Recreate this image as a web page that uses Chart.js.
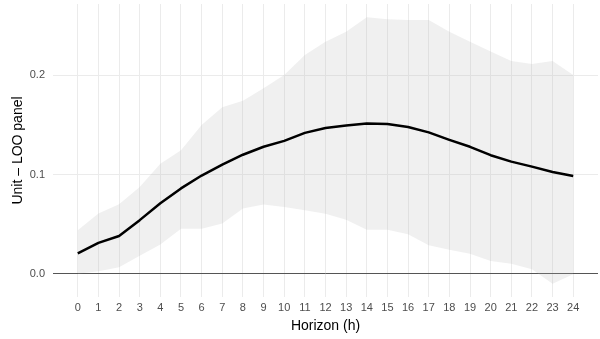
<!DOCTYPE html>
<html>
<head>
<meta charset="utf-8">
<script src="https://cdn.jsdelivr.net/npm/chart.js@4.4.1/dist/chart.umd.min.js"></script>
<style>
  html, body { margin: 0; padding: 0; background: #ffffff; }
  #wrap { width: 600px; height: 339px; }
</style>
</head>
<body>
<div id="wrap"><canvas id="c" width="600" height="339"></canvas></div>
<script>
// Forecast horizon (hours)
const hours = [0, 1, 2, 3, 4, 5, 6, 7, 8, 9, 10, 11, 12, 13, 14, 15, 16, 17, 18, 19, 20, 21, 22, 23, 24];

// Unit – LOO panel estimate by horizon
const meanEffect = [0.0205, 0.031, 0.038, 0.054, 0.071, 0.086, 0.099, 0.110, 0.120, 0.128, 0.134, 0.142, 0.147,
                    0.1495, 0.1515, 0.151, 0.148, 0.1425, 0.135, 0.128, 0.1195, 0.113, 0.108, 0.1025, 0.0985];

// Interval bounds
const upperBand = [0.0437, 0.0606, 0.070, 0.0875, 0.111, 0.1246, 0.150, 0.168, 0.1744, 0.187, 0.2003, 0.2205, 0.234,
                   0.244, 0.2586, 0.2566, 0.256, 0.256, 0.244, 0.234, 0.224, 0.2145, 0.2114, 0.2145, 0.2003];
const lowerBand = [0.0, 0.0025, 0.0065, 0.018, 0.0295, 0.0454, 0.0454, 0.0505, 0.0657, 0.0697, 0.0673, 0.064, 0.0605,
                   0.0545, 0.0444, 0.0444, 0.0397, 0.0286, 0.0242, 0.0202, 0.0128, 0.0101, 0.0044, -0.0101, -0.0007];

// Axis ticks
const xTicks = hours;
const yTicks = [0, 0.1, 0.2];
const yTickLabels = ['0.0', '0.1', '0.2'];

// Axis limits padded by 5% of the data range on each side
function expandRange(lo, hi) {
  const d = (hi - lo) * 0.05;
  return [lo - d, hi + d];
}
const xLim = expandRange(Math.min(...hours), Math.max(...hours));
const yLim = expandRange(Math.min(...lowerBand, ...meanEffect), Math.max(...upperBand, ...meanEffect));

const toPoints = (ys) => hours.map((h, i) => ({ x: h, y: ys[i] }));

const FONT = '"Liberation Sans", Arial, Helvetica, sans-serif';
Chart.defaults.font.family = FONT;

new Chart(document.getElementById('c'), {
  type: 'line',
  data: {
    datasets: [
      {
        label: 'upper',
        data: toPoints(upperBand),
        borderWidth: 0,
        borderColor: 'rgba(0,0,0,0)',
        backgroundColor: 'rgba(179,179,179,0.2)',
        fill: '+1',
        pointRadius: 0,
        tension: 0,
        order: 2
      },
      {
        label: 'lower',
        data: toPoints(lowerBand),
        borderWidth: 0,
        borderColor: 'rgba(0,0,0,0)',
        fill: false,
        pointRadius: 0,
        tension: 0,
        order: 2
      },
      {
        label: 'estimate',
        data: toPoints(meanEffect),
        borderColor: '#000000',
        borderWidth: 2.5,
        fill: false,
        pointRadius: 0,
        tension: 0,
        borderJoinStyle: 'round',
        borderCapStyle: 'butt',
        order: 0
      }
    ]
  },
  options: {
    responsive: false,
    animation: false,
    layout: { padding: { top: 4, right: 2, left: 0, bottom: 0 } },
    plugins: {
      legend: { display: false },
      tooltip: { enabled: false }
    },
    scales: {
      x: {
        type: 'linear',
        min: xLim[0],
        max: xLim[1],
        afterBuildTicks: (s) => { s.ticks = xTicks.map(v => ({ value: v })); },
        afterFit: (s) => { s.height = 42; s.paddingLeft = 0; s.paddingRight = 0; },
        border: { display: false },
        grid: { color: '#ebebeb', lineWidth: 1, drawTicks: false },
        ticks: {
          autoSkip: false,
          maxRotation: 0,
          padding: 4,
          color: '#4d4d4d',
          font: { size: 11 },
          callback: (v) => String(v)
        },
        title: {
          display: true,
          text: 'Horizon (h)',
          color: '#000000',
          font: { size: 14 },
          padding: { top: 0, bottom: 4 }
        }
      },
      y: {
        type: 'linear',
        min: yLim[0],
        max: yLim[1],
        afterBuildTicks: (s) => { s.ticks = yTicks.map(v => ({ value: v })); },
        afterFit: (s) => { s.width = 53; s.paddingTop = 0; s.paddingBottom = 0; },
        border: { display: false },
        grid: {
          color: (ctx) => (ctx.tick && ctx.tick.value === 0 ? '#555555' : '#ebebeb'),
          lineWidth: 1,
          drawTicks: false
        },
        ticks: {
          padding: 8,
          color: '#4d4d4d',
          font: { size: 11 },
          callback: (v) => yTickLabels[yTicks.indexOf(v)]
        },
        title: {
          display: true,
          text: 'Unit – LOO panel',
          color: '#000000',
          font: { size: 14 },
          padding: { top: 10, bottom: 0 }
        }
      }
    }
  }
});
</script>
</body>
</html>
